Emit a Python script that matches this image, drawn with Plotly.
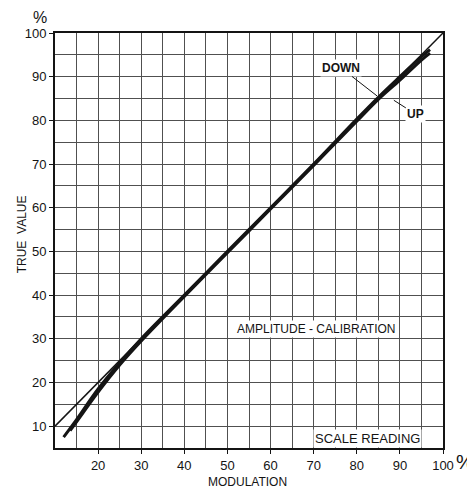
import plotly.graph_objects as go

# Scale reading (modulation %) vs true value (%)
ideal_x = [10, 100]
ideal_y = [10, 100]

up_x = [12, 15, 20, 25, 30, 40, 50, 60, 70, 80, 85, 90, 95, 97]
up_y = [7.5, 11.5, 18.5, 24.5, 30, 40, 50, 60, 70, 80.3, 85.3, 90, 94.6, 96.2]

down_x = [13.5, 15, 20, 25, 30, 40, 50, 60, 70, 80, 85, 90, 95, 97]
down_y = [9, 11, 17.8, 24, 29.5, 39.7, 49.7, 59.7, 69.7, 79.8, 84.8, 89.2, 93.8, 95.4]

x_ticks = [20, 30, 40, 50, 60, 70, 80, 90, 100]
y_ticks = [10, 20, 30, 40, 50, 60, 70, 80, 90, 100]

FONT = "Liberation Sans"
INK = "#141414"
GRID = "#505050"

fig = go.Figure()
fig.add_trace(go.Scatter(x=ideal_x, y=ideal_y, mode="lines",
                         line=dict(color=INK, width=1.5), showlegend=False))
fig.add_trace(go.Scatter(x=up_x, y=up_y, mode="lines", line_shape="spline",
                         line=dict(color=INK, width=3), showlegend=False))
fig.add_trace(go.Scatter(x=down_x, y=down_y, mode="lines", line_shape="spline",
                         line=dict(color=INK, width=3), showlegend=False))

axis_common = dict(
    showline=True, linecolor=INK, linewidth=2, mirror=True,
    showgrid=True, gridcolor=GRID, gridwidth=1,
    ticks="outside", ticklen=4, tickcolor=INK,
    tickfont=dict(family=FONT, size=13, color=INK),
    zeroline=False,
)

fig.update_xaxes(range=[10, 100], tickvals=x_ticks,
                 minor=dict(dtick=5, tick0=10, showgrid=True, gridcolor=GRID, gridwidth=1),
                 **axis_common)
fig.update_yaxes(range=[5, 100], tickvals=y_ticks,
                 minor=dict(dtick=5, tick0=5, showgrid=True, gridcolor=GRID, gridwidth=1),
                 **axis_common)

ann_font = dict(family=FONT, size=12, color=INK)
C = dict(xanchor="center", yanchor="middle")
annotations = [
    dict(text="TRUE  VALUE", xref="paper", yref="paper", x=-0.085, y=0.515,
         textangle=-90, showarrow=False, font=ann_font, **C),
    dict(text="MODULATION", xref="paper", yref="paper", x=0.495, y=-0.082,
         showarrow=False, font=ann_font, **C),
    dict(text="%", xref="paper", yref="paper", x=-0.039, y=1.038,
         showarrow=False, font=dict(family=FONT, size=16, color=INK), **C),
    dict(text="%", xref="paper", yref="paper", x=1.057, y=-0.033,
         showarrow=False, font=dict(family=FONT, size=20, color=INK), **C),
    dict(text="SCALE READING", x=82.5, y=7.1, showarrow=False,
         font=dict(family=FONT, size=13, color=INK), bgcolor="white"),
    dict(text="AMPLITUDE - CALIBRATION", x=70.5, y=32.3, showarrow=False,
         font=ann_font, bgcolor="white"),
    dict(text="<b>DOWN</b>", x=84.7, y=85.6, ax=-36, ay=-28, showarrow=True,
         arrowhead=0, arrowwidth=1, arrowcolor=INK, font=ann_font, bgcolor="white"),
    dict(text="<b>UP</b>", x=88.6, y=84.6, ax=22, ay=14, showarrow=True,
         arrowhead=0, arrowwidth=1, arrowcolor=INK, font=ann_font, bgcolor="white"),
]

# The page adds an 8px body margin, so the figure is sized and offset to compensate.
fig.update_layout(
    width=467, height=483,
    margin=dict(l=47, r=32, t=25, b=43),
    paper_bgcolor="white", plot_bgcolor="white",
    annotations=annotations,
    font=dict(family=FONT, color=INK),
)

fig.write_html("out.html")
